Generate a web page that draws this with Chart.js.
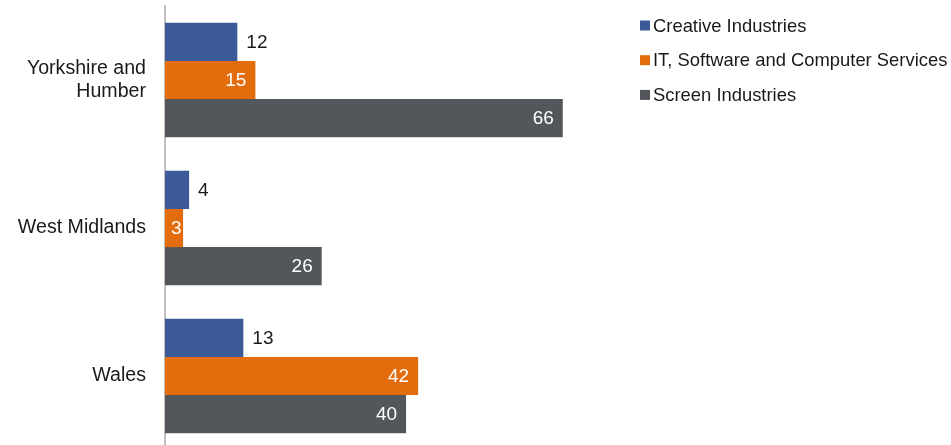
<!DOCTYPE html>
<html>
<head>
<meta charset="utf-8">
<script src="https://cdn.jsdelivr.net/npm/chart.js@4.4.1/dist/chart.umd.min.js"></script>
<style>
  body { margin: 0; overflow: hidden; background: #fff; }
  #wrap { position: relative; width: 951px; height: 451px; }
</style>
</head>
<body>
<div id="wrap"><canvas id="sectorChart"></canvas></div>
<script>
const regions = [['Yorkshire and', 'Humber'], 'West Midlands', 'Wales'];
const seriesNames = ['Creative Industries', 'IT, Software and Computer Services', 'Screen Industries'];
const creative = [12, 4, 13];
const itSoftware = [15, 3, 42];
const screen = [66, 26, 40];
const seriesColors = ['#3d5a98', '#e36c0c', '#53575b'];
const labelInside = [false, true, true];

const FONT = '"Liberation Sans", Arial, sans-serif';
const ctx = document.getElementById('sectorChart').getContext('2d');

// value labels: outside the bar end for the first series, inside for the others
const barValues = {
    id: 'barValues',
    afterDatasetsDraw(chart) {
        const c = chart.ctx;
        c.save();
        c.font = '19px ' + FONT;
        c.textBaseline = 'middle';
        chart.data.datasets.forEach((ds, i) => {
            const meta = chart.getDatasetMeta(i);
            meta.data.forEach((bar, j) => {
                const text = String(ds.data[j]);
                const w = c.measureText(text).width;
                if (labelInside[i]) {
                    const len = bar.x - bar.base;
                    const pad = Math.min(9, Math.max(1, len - w - 6));
                    c.fillStyle = '#ffffff';
                    c.textAlign = 'right';
                    c.fillText(text, bar.x - pad, bar.y + 1);
                } else {
                    c.fillStyle = '#1a1a1a';
                    c.textAlign = 'left';
                    c.fillText(text, bar.x + 9, bar.y + 1);
                }
            });
        });
        c.restore();
    }
};

// legend drawn by hand, the built-in one is capped to a quarter of the width
const sideLegend = {
    id: 'sideLegend',
    afterDraw(chart) {
        const c = chart.ctx;
        c.save();
        c.font = '18.4px ' + FONT;
        c.textBaseline = 'middle';
        c.textAlign = 'left';
        chart.data.datasets.forEach((ds, i) => {
            const y = 25.5 + i * 34.7;
            c.fillStyle = ds.backgroundColor;
            c.fillRect(640, y - 5, 10, 10);
            c.fillStyle = '#1a1a1a';
            c.fillText(ds.label, 653, y + 1);
        });
        c.restore();
    }
};

const data = {
    labels: regions,
    datasets: [creative, itSoftware, screen].map((values, i) => ({
        label: seriesNames[i],
        data: values,
        backgroundColor: seriesColors[i],
        borderWidth: 0
    }))
};

const config = {
    type: 'bar',
    data: data,
    options: {
        indexAxis: 'y',
        responsive: true,
        maintainAspectRatio: false,
        animation: false,
        layout: { padding: { left: 0, top: 6, bottom: 1, right: 334 } },
        datasets: {
            bar: { barPercentage: 1, categoryPercentage: 0.775 }
        },
        scales: {
            x: {
                display: false,
                min: 0,
                max: 75
            },
            y: {
                afterFit(scale) {
                    scale.width = 165;
                    scale.paddingTop = 0;
                    scale.paddingBottom = 0;
                },
                grid: { display: false, drawTicks: false },
                border: { display: true, color: '#c0c0c0', width: 2 },
                ticks: {
                    padding: 19,
                    color: '#1a1a1a',
                    font: { family: FONT, size: 19.6, lineHeight: 1.14 }
                }
            }
        },
        plugins: {
            legend: { display: false },
            tooltip: { enabled: false }
        }
    },
    plugins: [barValues, sideLegend]
};

new Chart(ctx, config);
</script>
</body>
</html>
